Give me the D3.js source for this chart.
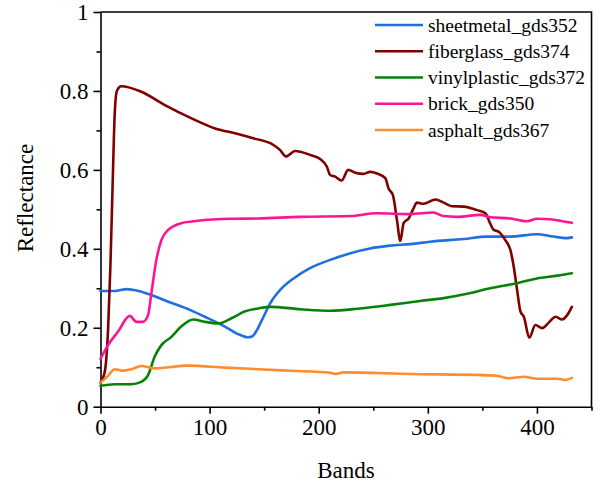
<!DOCTYPE html>
<html>
<head>
<meta charset="utf-8">
<script src="https://cdn.jsdelivr.net/npm/d3@7/dist/d3.min.js"></script>
<style>
  body { margin: 0; }
  #chart text { font-family: 'Liberation Serif', 'Times New Roman', serif !important; fill: #000; }
</style>
</head>
<body>
<svg id="chart" width="606" height="485"></svg>
<script>
// Spectral reflectance curves, [band, reflectance]
const sheetmetal = [
  [0,0.293],[13,0.293],[24,0.298],[34,0.294],[46.6,0.283],[62,0.266],[77,0.251],
  [95.6,0.228],[114,0.203],[126,0.184],[135,0.176],[139,0.178],[143.3,0.194],
  [149.4,0.228],[155.5,0.262],[164.7,0.296],[177,0.325],[192,0.351],[210.5,0.372],
  [229,0.389],[247,0.401],[265.6,0.408],[284,0.412],[302,0.418],[333,0.425],
  [354,0.431],[375.7,0.431],[400,0.437],[415,0.431],[427.7,0.427],[432,0.429]
];
const fiberglass = [
  [0,0.061],[4,0.09],[7,0.2],[9,0.35],[11,0.55],[13,0.74],[15,0.80],[19,0.812],
  [37.5,0.798],[59,0.764],[83,0.731],[105,0.705],[126,0.691],[140,0.680],
  [158.5,0.663],[164.7,0.650],[170,0.634],[178.4,0.648],[192,0.638],[201,0.628],
  [207.5,0.608],[210.5,0.587],[215,0.583],[221,0.573],[227,0.600],[233.5,0.593],
  [241,0.590],[247,0.595],[253.4,0.591],[261,0.579],[264,0.553],[268,0.536],
  [271.7,0.473],[274.8,0.420],[277.8,0.465],[282.4,0.477],[287,0.503],[290,0.517],
  [296,0.514],[307,0.525],[314.5,0.517],[322,0.508],[333,0.507],[345,0.498],
  [352.8,0.490],[357,0.465],[360,0.449],[365,0.443],[371,0.422],[375.7,0.397],
  [378.7,0.355],[381.8,0.296],[384.9,0.241],[388,0.228],[393,0.175],[398.6,0.207],
  [404.8,0.199],[410.8,0.213],[417,0.228],[423,0.221],[427.7,0.232],[432,0.253]
];
const vinylplastic = [
  [0,0.053],[13,0.057],[28,0.057],[37.4,0.063],[43.6,0.080],[49.7,0.127],
  [55.8,0.156],[65,0.177],[74,0.203],[84.9,0.221],[95.6,0.215],[107.8,0.211],
  [120,0.224],[132,0.241],[144.5,0.249],[155.5,0.253],[183,0.247],[210.5,0.243],
  [238,0.249],[265.6,0.258],[293,0.268],[314.5,0.275],[336,0.286],[357,0.300],
  [381.8,0.313],[400,0.325],[418.5,0.332],[432,0.338]
];
const brick = [
  [0,0.121],[6.9,0.156],[16,0.190],[26.8,0.230],[32.9,0.215],[39,0.215],
  [43.6,0.232],[46.6,0.287],[51.2,0.372],[55.8,0.422],[62,0.448],[74,0.465],
  [89.4,0.471],[120,0.476],[144.5,0.477],[183,0.481],[229,0.483],[253,0.490],
  [284,0.488],[305,0.492],[314.5,0.483],[327,0.481],[348,0.486],[357,0.480],
  [375.7,0.477],[391,0.470],[400,0.476],[412,0.475],[424.6,0.469],[432,0.466]
];
const asphalt = [
  [0,0.061],[6.9,0.078],[13,0.095],[20.6,0.091],[28.3,0.095],[37.4,0.103],
  [49.7,0.097],[80,0.104],[114,0.099],[144.5,0.095],[174,0.091],[210.5,0.086],
  [215,0.083],[222.7,0.087],[284,0.083],[351,0.080],[363.5,0.078],[374,0.072],
  [388,0.076],[400,0.071],[418.5,0.071],[426,0.068],[432,0.073]
];

const seriesNames = ["sheetmetal_gds352", "fiberglass_gds374", "vinylplastic_gds372", "brick_gds350", "asphalt_gds367"];
const seriesData = [sheetmetal, fiberglass, vinylplastic, brick, asphalt];
const seriesColors = ["#1f6fe0", "#800000", "#078207", "#ff1493", "#ff8c2e"];

const xTicks = [0, 100, 200, 300, 400];
const xMinorTicks = [50, 150, 250, 350, 450];
const yTicks = [0, 0.2, 0.4, 0.6, 0.8, 1];
const yMinorTicks = [0.1, 0.3, 0.5, 0.7, 0.9];

const FONT = "'Liberation Serif', 'Times New Roman', serif";
const serif = (sel, size) => sel
  .style("font-family", FONT, "important")
  .style("font-size", size + "px")
  .style("fill", "#000");

const svg = d3.select("#chart");
const plot = { left: 100.5, right: 591.5, top: 12, bottom: 406.7 };

const x = d3.scaleLinear().domain([0, 450]).range([plot.left, plot.right]);
const y = d3.scaleLinear().domain([0, 1]).range([plot.bottom, plot.top]);

// Frame on top and right
svg.append("path")
  .attr("d", `M${plot.left},${plot.top}H${plot.right}V${plot.bottom}`)
  .attr("fill", "none").attr("stroke", "#000").attr("stroke-width", 1.6);

// Minor ticks
svg.append("g").attr("transform", `translate(0,${plot.bottom})`)
  .call(d3.axisBottom(x).tickValues(xMinorTicks).tickSize(4).tickFormat(""))
  .call(g => g.select(".domain").remove());
svg.append("g").attr("transform", `translate(${plot.left},0)`)
  .call(d3.axisLeft(y).tickValues(yMinorTicks).tickSize(4).tickFormat(""))
  .call(g => g.select(".domain").remove());

// Major axes
svg.append("g").attr("transform", `translate(0,${plot.bottom})`)
  .call(d3.axisBottom(x).tickValues(xTicks).tickSize(7).tickPadding(5).tickSizeOuter(0).tickFormat(d3.format("d")));
svg.append("g").attr("transform", `translate(${plot.left},0)`)
  .call(d3.axisLeft(y).tickValues(yTicks).tickSize(7).tickPadding(5).tickSizeOuter(0)
    .tickFormat(d => d === 0 ? "0" : d === 1 ? "1" : d3.format(".1f")(d)));

svg.selectAll("g").attr("font-family", null);
svg.selectAll(".tick line").attr("stroke", "#000").attr("stroke-width", 1.6);
svg.selectAll(".domain").attr("stroke", "#000").attr("stroke-width", 1.6);
svg.selectAll(".tick text").call(serif, 23);

// Axis titles
svg.append("text")
  .attr("x", (plot.left + plot.right) / 2).attr("y", 478)
  .attr("text-anchor", "middle")
  .call(serif, 23).text("Bands");
svg.append("text")
  .attr("transform", "translate(33,198) rotate(-90)")
  .attr("text-anchor", "middle")
  .call(serif, 23).text("Reflectance");

// Curves
const line = d3.line()
  .x(d => x(d[0])).y(d => y(d[1]))
  .curve(d3.curveMonotoneX);

svg.append("g").selectAll("path")
  .data(seriesData)
  .join("path")
  .attr("d", line)
  .attr("fill", "none")
  .attr("stroke", (d, i) => seriesColors[i])
  .attr("stroke-width", 2.6)
  .attr("stroke-linejoin", "round")
  .attr("stroke-linecap", "round");

// Legend
const legend = svg.append("g");
const legendY = d3.scaleLinear().domain([0, 4]).range([25, 130]);
seriesNames.forEach((name, i) => {
  const yy = legendY(i);
  legend.append("line")
    .attr("x1", 375).attr("x2", 423).attr("y1", yy).attr("y2", yy)
    .attr("stroke", seriesColors[i]).attr("stroke-width", 2.6);
  legend.append("text")
    .attr("x", 428).attr("y", yy + 6.5)
    .call(serif, 19.5).text(name);
});
</script>
</body>
</html>
